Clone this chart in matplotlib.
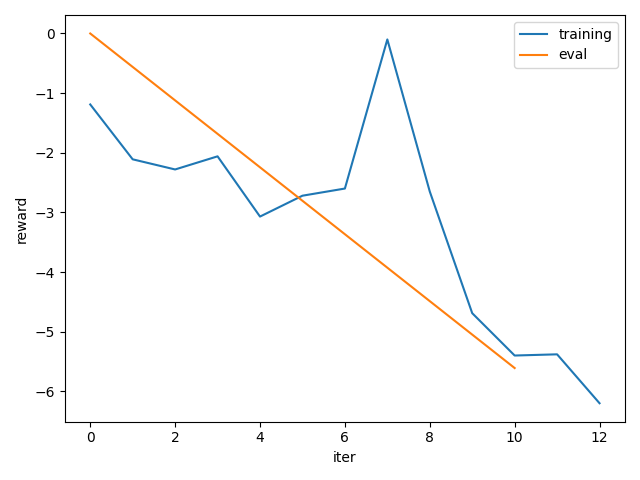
import matplotlib
matplotlib.use("Agg")
import matplotlib.pyplot as plt

train_x = list(range(13))
train_y = [-1.19, -2.11, -2.28, -2.06, -3.07, -2.72, -2.60, -0.10, -2.65, -4.69, -5.40, -5.38, -6.20]
eval_x = [0, 10]
eval_y = [0.0, -5.61]

fig, ax = plt.subplots(figsize=(6.4, 4.8), dpi=100)
ax.plot(train_x, train_y, label="training")
ax.plot(eval_x, eval_y, label="eval")
ax.set_xlabel("iter")
ax.set_ylabel("reward")
ax.legend()
fig.tight_layout()
fig.savefig("out.png")
